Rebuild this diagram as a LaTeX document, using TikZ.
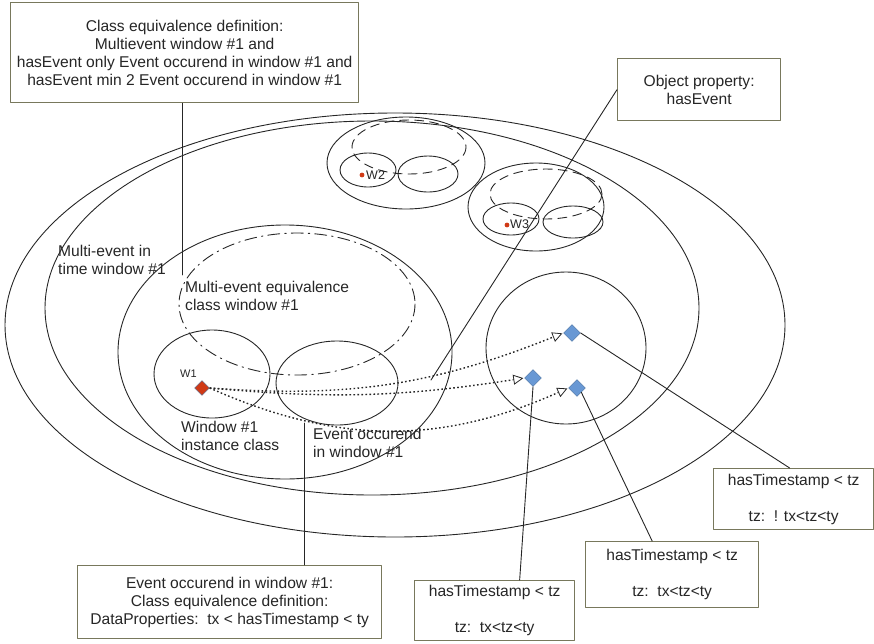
\documentclass[tikz,border=0pt]{standalone}
\usepackage{fontspec}
\setmainfont{Liberation Sans}
\usetikzlibrary{arrows.meta,shapes.geometric}
\definecolor{boxline}{RGB}{120,120,92}
\definecolor{ink}{RGB}{38,38,38}
\definecolor{evblue}{RGB}{104,152,212}
\definecolor{evred}{RGB}{208,58,22}
\begin{document}
\begin{tikzpicture}[x=1pt,y=-1pt,font=\fontsize{15.6}{18}\selectfont,line join=round,line cap=round,
  set/.style={draw=black!85,line width=0.9pt},
  eqset/.style={set,dash pattern=on 12pt off 5pt on 1.5pt off 5pt},
  subset/.style={set,dash pattern=on 9pt off 6pt},
  infobox/.style={draw=boxline,line width=1.3pt,fill=white,align=center,inner sep=0pt,text=ink,anchor=north west},
  lbl/.style={align=left,inner sep=0pt,anchor=north west,text=ink,font=\fontsize{15.6}{17.5}\selectfont},
  evmark/.style={diamond,draw=evblue!75!black,fill=evblue,minimum size=17pt,inner sep=0pt},
  winmark/.style={diamond,draw=evblue!75!black,fill=evred,minimum size=15pt,inner sep=0pt},
  link/.style={draw=black!85,line width=1.4pt,dash pattern=on 1.6pt off 2.4pt,line cap=butt,
    -{Triangle[open,length=10pt,width=10pt,line width=0.8pt,sep=1pt]}},
  lead/.style={draw=black!85,line width=0.9pt}]
\useasboundingbox (0,0) rectangle (874,643);

% time windows, outer to inner
\draw[set] (395,325) ellipse[x radius=390,y radius=212];
\draw[set] (372,308) ellipse[x radius=327,y radius=187];

% window #1
\draw[set] (285,352) ellipse[x radius=167,y radius=127];
\draw[eqset] (297,304) ellipse[x radius=118,y radius=71];
\draw[set] (212,374) ellipse[x radius=58,y radius=44];
\draw[set] (337,383) ellipse[x radius=61,y radius=42];

% window #2
\draw[set] (406,163) ellipse[x radius=79,y radius=46];
\draw[subset] (409,147) ellipse[x radius=57,y radius=27];
\draw[set] (368,170) ellipse[x radius=28,y radius=17];
\draw[set] (428,174) ellipse[x radius=30,y radius=18];
\fill[evred] (362,175) circle(2.4pt);
\node[lbl,font=\fontsize{12.5}{13}\selectfont] (w2) at (366,171) {W2};

% window #3
\draw[set] (536,207) ellipse[x radius=68,y radius=44];
\draw[subset] (546,194) ellipse[x radius=56,y radius=25];
\draw[set] (511,219) ellipse[x radius=28,y radius=16];
\draw[set] (573,222) ellipse[x radius=30,y radius=16];
\fill[evred] (507,225) circle(2.4pt);
\node[lbl,font=\fontsize{12.5}{13}\selectfont] (w3) at (510,220) {W3};

% events outside window #1
\draw[set] (566,348) ellipse[x radius=80,y radius=76];

% set labels
\node[lbl] (mtw) at (58,245) {Multi-event in\\time window \#1};
\node[lbl] (meq) at (185,281) {Multi-event equivalence\\class window \#1};
\node[lbl] (wic) at (181,421) {Window \#1\\instance class};
\node[lbl] (eow) at (313,428) {Event occurend\\in window \#1};

% instances
\node[winmark] (w1) at (202,388) {};
\node[lbl,font=\fontsize{11}{11}\selectfont] (w1l) at (180,370) {W1};
\node[evmark] (ev1) at (572,333) {};
\node[evmark] (ev2) at (533,378) {};
\node[evmark] (ev3) at (577,388) {};

\draw[link] (w1.east) to[bend right=13] (ev1.west);
\draw[link] (w1.east) to[bend right=7] (ev2.west);
\draw[link] (w1.east) to[bend right=24] (ev3.west);

% annotation boxes
\node[infobox,minimum width=348pt,minimum height=100pt] (classdef) at (10,2)
  {Class equivalence definition:\\Multievent window \#1 and\\hasEvent only Event occurend in window \#1 and\\hasEvent min 2 Event occurend in window \#1};
\node[infobox,minimum width=163pt,minimum height=62pt] (objprop) at (617,58)
  {Object property:\\hasEvent};
\node[infobox,minimum width=304pt,minimum height=73pt] (eventdef) at (77,565)
  {Event occurend in window \#1:\\Class equivalence definition:\\DataProperties:\ \ tx < hasTimestamp < ty};
\node[infobox,minimum width=160pt,minimum height=60pt] (ts1) at (414,580)
  {hasTimestamp < tz\\[18pt]tz:\ \ tx<tz<ty};
\node[infobox,minimum width=173pt,minimum height=66pt] (ts2) at (585,541)
  {hasTimestamp < tz\\[18pt]tz:\ \ tx<tz<ty};
\node[infobox,minimum width=160pt,minimum height=61pt] (ts3) at (713,468)
  {hasTimestamp < tz\\[18pt]tz:\ \ ! tx<tz<ty};

% leader lines
\coordinate (eqtip) at (182,275);
\coordinate (hastip) at (431,380);
\coordinate (evtip) at (304,423);
\draw[lead] (classdef.south -| eqtip) -- (eqtip);
\draw[lead] (objprop.west) -- (hastip);
\draw[lead] (eventdef.north -| evtip) -- (evtip);
\draw[lead] (ev2.south) -- ([xshift=25pt]ts1.north);
\draw[lead] (ev3.south east) -- ([xshift=-20pt]ts2.north);
\draw[lead] (ev1.east) -- ([xshift=-4pt]ts3.north);
\end{tikzpicture}
\end{document}
